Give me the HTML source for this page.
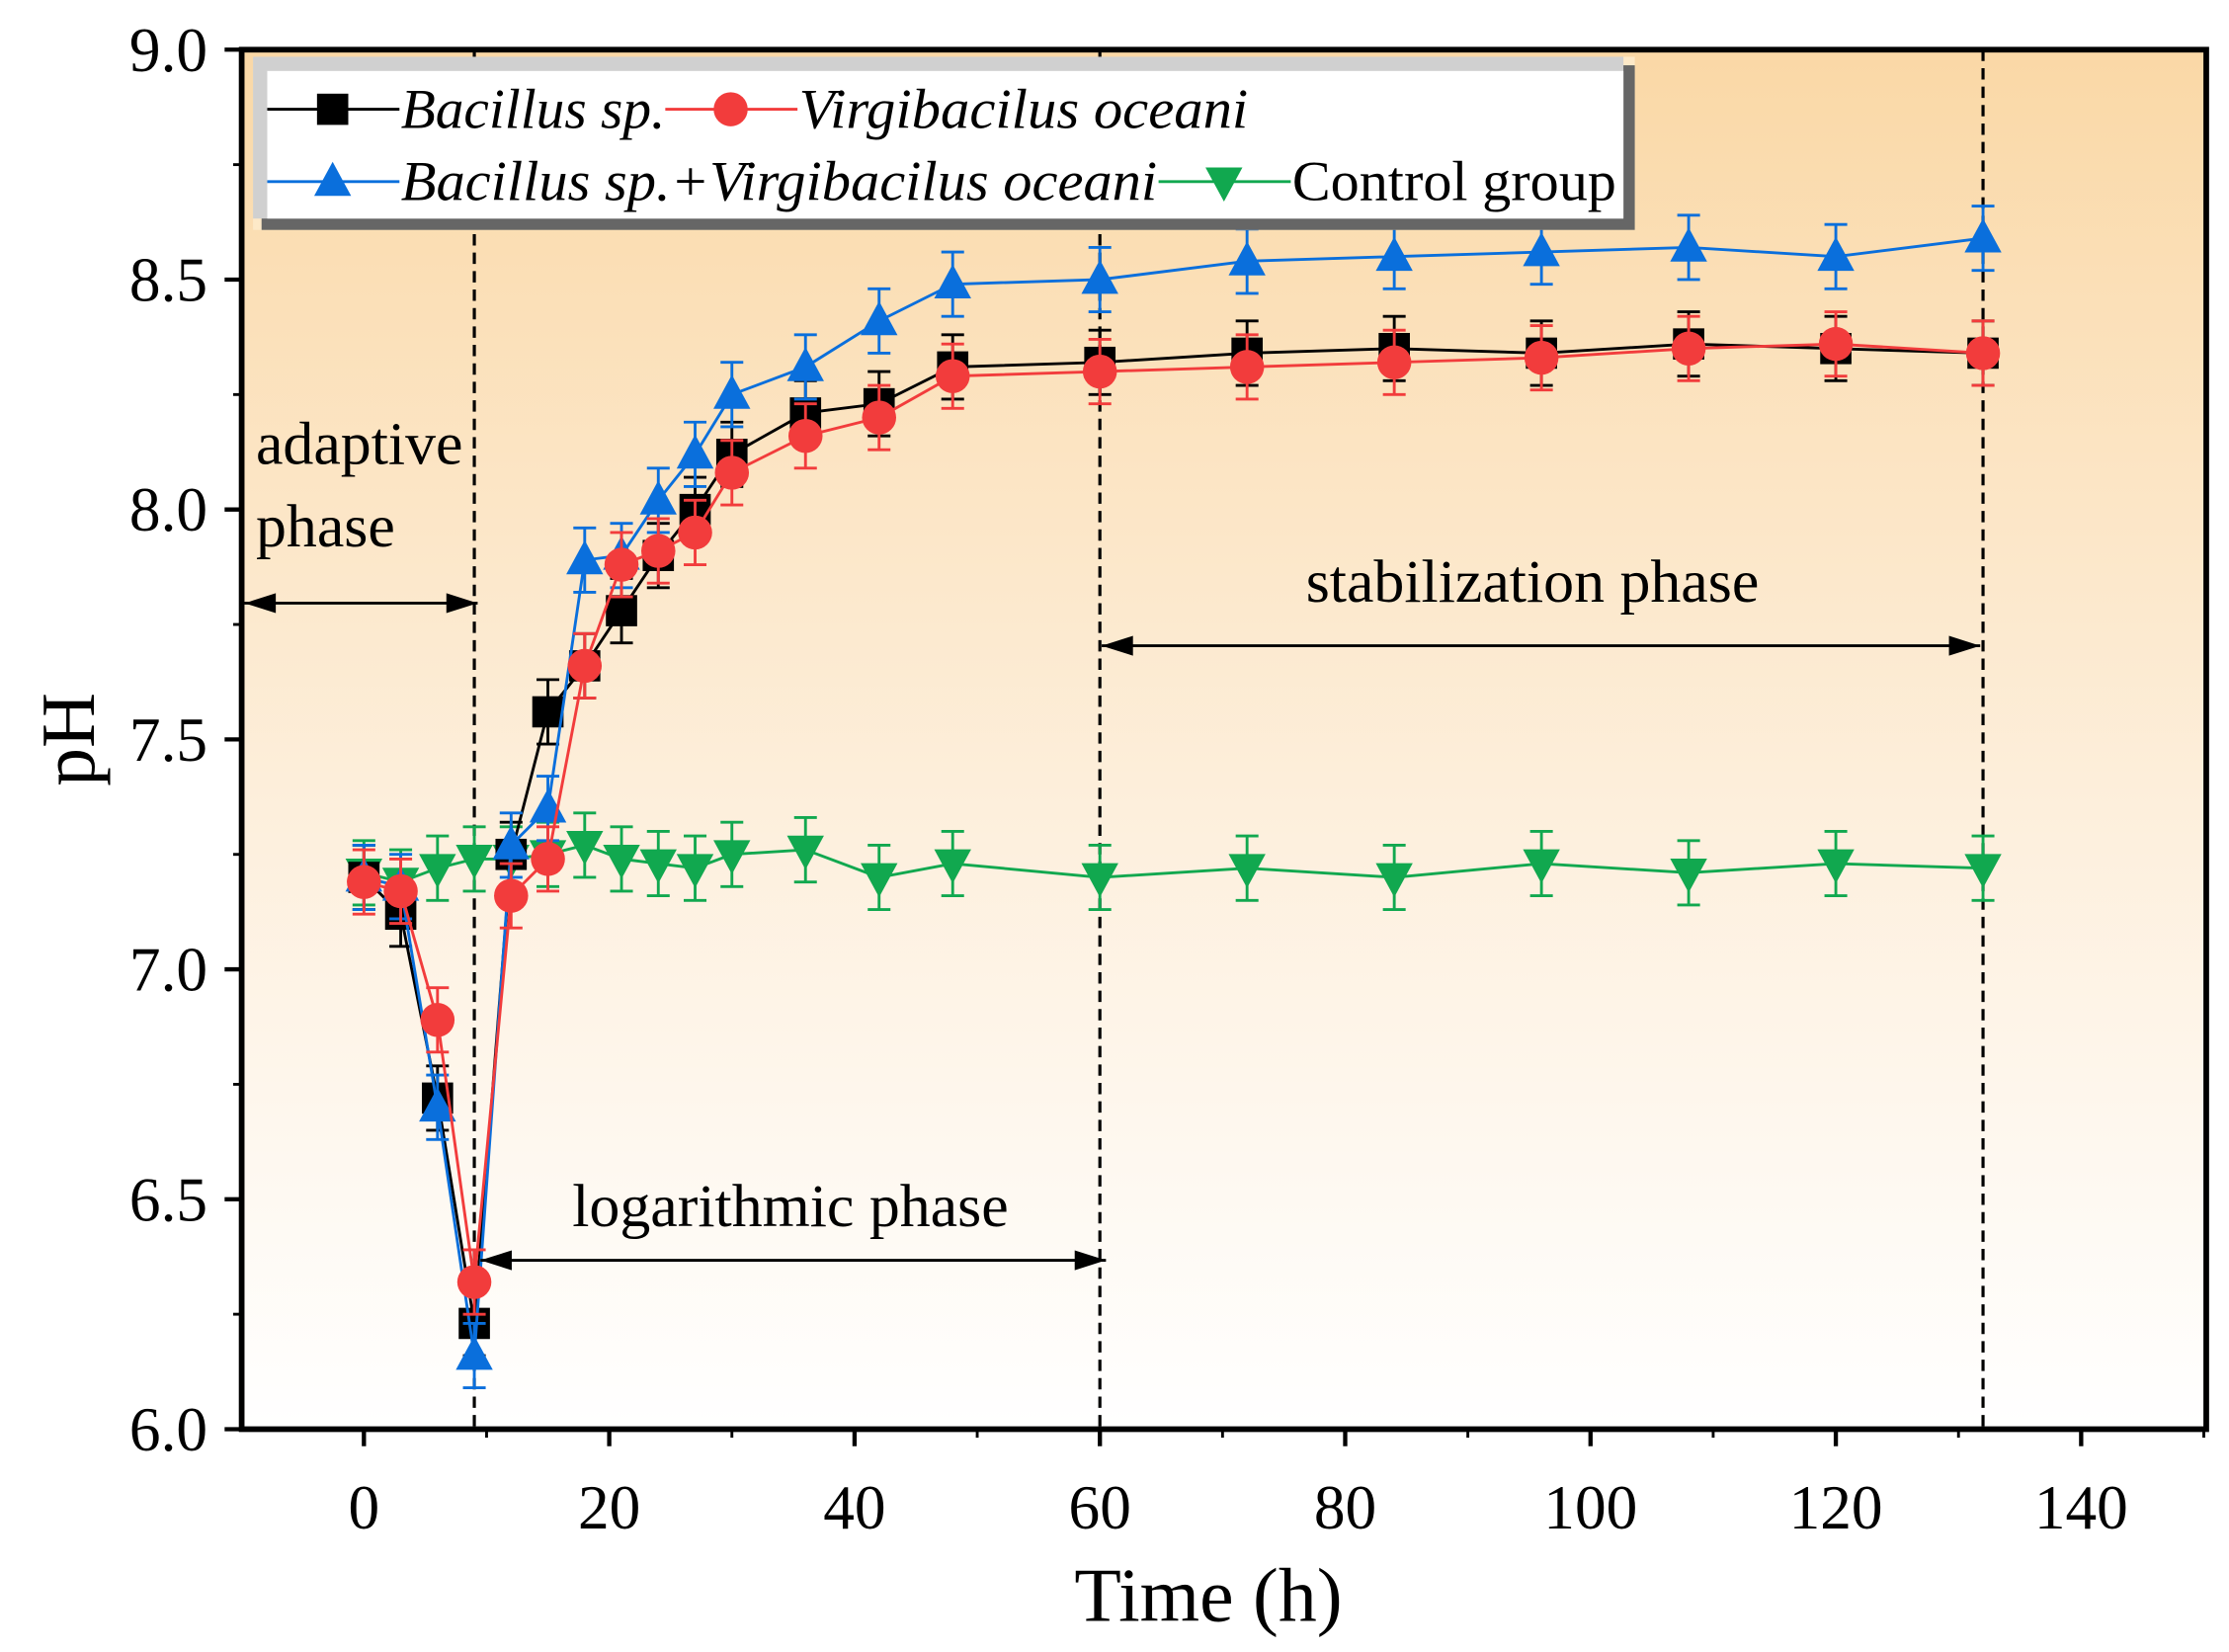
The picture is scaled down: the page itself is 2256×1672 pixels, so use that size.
<!DOCTYPE html>
<html><head><meta charset="utf-8"><style>
html,body{margin:0;padding:0;background:#fff;}
svg{display:block;}
text{font-family:"Liberation Serif",serif;}
</style></head>
<body>
<svg id="chart" width="2256" height="1672" viewBox="0 0 1568 1164" preserveAspectRatio="none" xmlns="http://www.w3.org/2000/svg">
<defs>
<linearGradient id="bg" x1="0" y1="0" x2="0" y2="1">
<stop offset="0" stop-color="#fad8a6"/>
<stop offset="0.55" stop-color="#fdefdc"/>
<stop offset="1" stop-color="#ffffff"/>
</linearGradient>
</defs>
<rect x="170" y="35" width="1382" height="972" fill="url(#bg)"/>
<g id="marks"></g>
<g id="axes"></g>
</svg>
<script>
const times=[0,3,6,9,12,15,18,21,24,27,30,36,42,48,60,72,84,96,108,120,132];
const bacillus=[7.2,7.12,6.72,6.23,7.25,7.56,7.66,7.78,7.9,8.0,8.12,8.21,8.23,8.31,8.32,8.34,8.35,8.34,8.36,8.35,8.34];
const virgi=[7.19,7.17,6.89,6.32,7.16,7.24,7.66,7.88,7.91,7.95,8.08,8.16,8.2,8.29,8.3,8.31,8.32,8.33,8.35,8.36,8.34];
const combined=[7.2,7.18,6.7,6.16,7.27,7.35,7.89,7.9,8.02,8.12,8.25,8.31,8.41,8.49,8.5,8.54,8.55,8.56,8.57,8.55,8.59];
const control=[7.21,7.19,7.22,7.24,7.24,7.25,7.27,7.24,7.23,7.22,7.25,7.26,7.2,7.23,7.2,7.22,7.2,7.23,7.21,7.23,7.22];
const errBar=0.07;
const xTicks=[0,20,40,60,80,100,120,140];
const yTicks=[6.0,6.5,7.0,7.5,8.0,8.5,9.0];
const phaseLines=[9,60,132];

const NS="http://www.w3.org/2000/svg";
const X=t=>256+(t-0)*(1464-256)/140;
const Y=v=>1007-(v-6)*(1007-35)/3;
const marks=document.getElementById('marks');
const axes=document.getElementById('axes');
function mk(tag,attrs,parent){const e=document.createElementNS(NS,tag);for(const k in attrs)e.setAttribute(k,attrs[k]);parent.appendChild(e);return e;}

function marker(type,cx,cy,color,parent){
  const s=11;
  if(type==='sq') return mk('rect',{x:cx-s,y:cy-s,width:2*s,height:2*s,fill:color},parent);
  if(type==='ci') return mk('circle',{cx:cx,cy:cy,r:12,fill:color},parent);
  if(type==='up') return mk('polygon',{points:`${cx},${cy-14} ${cx-13},${cy+10} ${cx+13},${cy+10}`,fill:color},parent);
  return mk('polygon',{points:`${cx},${cy+14} ${cx-13},${cy-10} ${cx+13},${cy-10}`,fill:color},parent);
}
phaseLines.forEach(t=>{
  const l=mk('line',{x1:X(t),x2:X(t),y1:35,y2:1007,stroke:'#000','stroke-width':2.2,'stroke-dasharray':'8,5'},marks);
  
  
});
const series=[
 {d:control,c:'#11a84f',m:'dn',n:'control'},
 {d:bacillus,c:'#000000',m:'sq',n:'bacillus'},
 {d:combined,c:'#0a6fdc',m:'up',n:'combined'},
 {d:virgi,c:'#f23c3c',m:'ci',n:'virgibacilus'}
];
series.forEach(s=>{
  const g=mk('g',{},marks);
  
  
  const pts=times.map((t,i)=>X(t)+','+Y(s.d[i])).join(' ');
  mk('polyline',{points:pts,fill:'none',stroke:s.c,'stroke-width':2},g);
  times.forEach((t,i)=>{
    const x=X(t),y1=Y(s.d[i]+errBar),y2=Y(s.d[i]-errBar);
    mk('line',{x1:x,x2:x,y1:y1,y2:y2,stroke:s.c,'stroke-width':2},g);
    mk('line',{x1:x-8,x2:x+8,y1:y1,y2:y1,stroke:s.c,'stroke-width':2},g);
    mk('line',{x1:x-8,x2:x+8,y1:y2,y2:y2,stroke:s.c,'stroke-width':2},g);
    const m=marker(s.m,x,Y(s.d[i]),s.c,g);
    
    
  });
});
function arrow(x1,x2,y,name){
  const g=mk('g',{},marks);
  
  
  mk('line',{x1:x1,x2:x2,y1:y,y2:y,stroke:'#000','stroke-width':2},g);
  mk('polygon',{points:`${x1},${y} ${x1+22},${y-7} ${x1+22},${y+7}`,fill:'#000'},g);
  mk('polygon',{points:`${x2},${y} ${x2-22},${y-7} ${x2-22},${y+7}`,fill:'#000'},g);
}
arrow(172,336,425,'adaptive-arrow');
arrow(338,778,888,'logarithmic-arrow');
arrow(775,1393,455,'stabilization-arrow');
function txt(s,x,y,size,attrs,name){const t=mk('text',Object.assign({x:x,y:y,'font-size':size,fill:'#000'},attrs||{}),axes);t.textContent=s;return t;}
txt('adaptive',180,327,43,{},'adaptive-label');
txt('phase',180,385,43,{},'adaptive-label-2');
txt('logarithmic phase',556,864,43,{'text-anchor':'middle'},'logarithmic-label');
txt('stabilization phase',1078,424,43,{'text-anchor':'middle'},'stabilization-label');
const fr=mk('rect',{x:170,y:35,width:1382,height:972,fill:'none',stroke:'#000','stroke-width':4},axes);

xTicks.forEach(t=>{
  mk('line',{x1:X(t),x2:X(t),y1:1007,y2:1019,stroke:'#000','stroke-width':3},axes);
  txt(String(t),X(t),1077,44,{'text-anchor':'middle'},'x-tick-label');
});
[10,30,50,70,90,110,130,150].forEach(t=>{ if(X(t)<1552) mk('line',{x1:X(t),x2:X(t),y1:1007,y2:1013,stroke:'#000','stroke-width':2},axes);});
yTicks.forEach(v=>{
  mk('line',{x1:158,x2:170,y1:Y(v),y2:Y(v),stroke:'#000','stroke-width':3},axes);
  txt(v.toFixed(1),146,Y(v)+15,44,{'text-anchor':'end'},'y-tick-label');
});
[6.25,6.75,7.25,7.75,8.25,8.75].forEach(v=>mk('line',{x1:164,x2:170,y1:Y(v),y2:Y(v),stroke:'#000','stroke-width':2},axes));
txt('Time (h)',850,1142,54,{'text-anchor':'middle'},'x-axis-title');
txt('pH',66,521,54,{'text-anchor':'middle',transform:'rotate(-90 66 521)'},'y-axis-title');
const lg=mk('g',{},axes);

mk('rect',{x:178,y:40,width:972,height:122,fill:'#fde9c8'},lg);
mk('rect',{x:184,y:46,width:966,height:116,fill:'#666'},lg);
mk('rect',{x:178,y:40,width:964,height:114,fill:'#d0d0d0'},lg);
mk('rect',{x:188,y:50,width:954,height:104,fill:'#fff'},lg);
const L=[
 {x:188,y:77,c:'#000',m:'sq',t:'Bacillus sp.',i:true,w:186},
 {x:468,y:77,c:'#f23c3c',m:'ci',t:'Virgibacilus oceani',i:true,w:316},
 {x:188,y:128,c:'#0a6fdc',m:'up',t:'Bacillus sp.+Virgibacilus oceani',i:true,w:532},
 {x:815,y:128,c:'#11a84f',m:'dn',t:'Control group',i:false,w:228}
];
L.forEach(e=>{
  const g=mk('g',{},lg);
  
  
  mk('line',{x1:e.x,x2:e.x+93,y1:e.y,y2:e.y,stroke:e.c,'stroke-width':2},g);
  marker(e.m,e.x+46,e.y,e.c,g);
  const t=mk('text',{x:e.x+94,y:e.y+13,'font-size':40,'font-style':e.i?'italic':'normal',fill:'#000',textLength:e.w,lengthAdjust:'spacingAndGlyphs'},g);
  t.textContent=e.t;
});
</script>
</body></html>
